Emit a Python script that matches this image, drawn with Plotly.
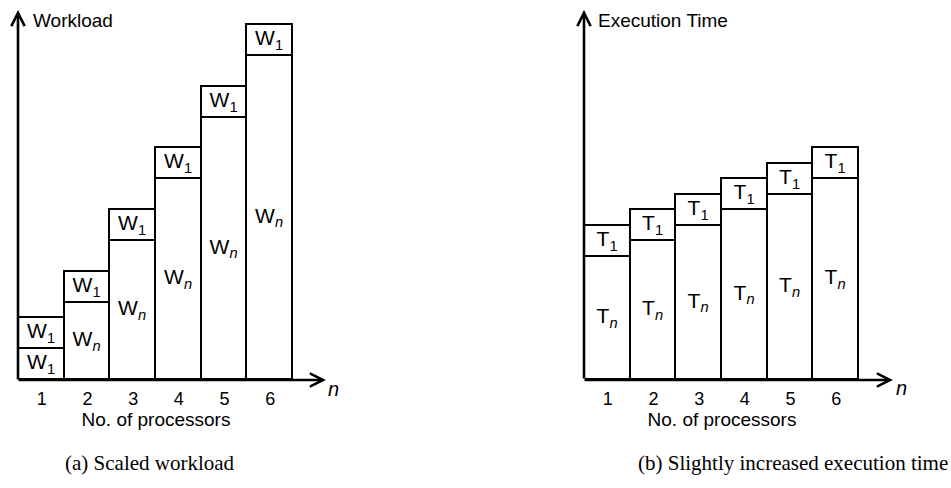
import plotly.graph_objects as go

# Data: workload (a) and execution time (b) per number of processors
processors = [1, 2, 3, 4, 5, 6]
tick_labels = ["1", "2", "3", "4", "5", "6"]

w1 = [1.0, 1.0, 1.0, 1.0, 1.0, 1.0]          # serial workload W1
wn = [1.0, 2.5, 4.5, 6.5, 8.5, 10.5]         # parallel workload Wn
w1_text = ["W<sub>1</sub>"] * 6
wn_text = ["W<sub>1</sub>"] + ["W<sub><i>n</i></sub>"] * 5

t1 = [1.0, 1.0, 1.0, 1.0, 1.0, 1.0]          # serial time T1
tn = [4.0, 4.5, 5.0, 5.5, 6.0, 6.5]          # parallel time Tn
t1_text = ["T<sub>1</sub>"] * 6
tn_text = ["T<sub><i>n</i></sub>"] * 6

# Page geometry (pixels)
W, H = 951, 488
SANS = "Liberation Sans, Arial, sans-serif"
SERIF = "Liberation Serif, Times New Roman, serif"
BASE_PX, TOP_PX = 380, 12
Y_MAX = 11.5 * (BASE_PX - TOP_PX) / (BASE_PX - 25)


def px_x(p):
    return p / W


def px_y(p):
    return 1 - p / H


fig = go.Figure()

bar_style = dict(
    marker=dict(color="white", line=dict(color="black", width=1.8)),
    textposition="inside",
    insidetextanchor="middle",
    constraintext="none",
    textangle=0,
    textfont=dict(family=SANS, size=21, color="black"),
    width=1.0,
    hoverinfo="skip",
    showlegend=False,
)

fig.add_trace(go.Bar(x=processors, y=wn, text=wn_text, xaxis="x", yaxis="y", **bar_style))
fig.add_trace(go.Bar(x=processors, y=w1, text=w1_text, xaxis="x", yaxis="y", **bar_style))
fig.add_trace(go.Bar(x=processors, y=tn, text=tn_text, xaxis="x2", yaxis="y2", **bar_style))
fig.add_trace(go.Bar(x=processors, y=t1, text=t1_text, xaxis="x2", yaxis="y2", **bar_style))

xaxis_common = dict(
    range=[0.5, 6.5],
    tickvals=processors,
    ticktext=tick_labels,
    tickfont=dict(family=SANS, size=18, color="black"),
    showgrid=False,
    zeroline=False,
    showline=False,
    ticks="outside",
    ticklen=2,
    tickcolor="rgba(0,0,0,0)",
    title=dict(text="No. of processors", font=dict(family=SANS, size=19, color="black"), standoff=1),
    fixedrange=True,
)
yaxis_common = dict(
    range=[0, Y_MAX],
    domain=[px_y(BASE_PX), px_y(TOP_PX)],
    showgrid=False,
    zeroline=False,
    showline=False,
    showticklabels=False,
    fixedrange=True,
)

fig.update_layout(
    width=W,
    height=H,
    margin=dict(l=0, r=0, t=0, b=0),
    paper_bgcolor="white",
    plot_bgcolor="white",
    barmode="stack",
    bargap=0,
    uniformtext=dict(minsize=21, mode="show"),
    xaxis=dict(domain=[px_x(19), px_x(293)], anchor="y", **xaxis_common),
    yaxis=dict(anchor="x", **yaxis_common),
    xaxis2=dict(domain=[px_x(585), px_x(859)], anchor="y2", **xaxis_common),
    yaxis2=dict(anchor="x2", **yaxis_common),
)

annotations = []


def axis_arrow(x0, y0, x1, y1):
    annotations.append(dict(
        xref="paper", yref="paper", axref="pixel", ayref="pixel",
        x=px_x(x1), y=px_y(y1), ax=x0 - x1, ay=y0 - y1,
        text="", showarrow=True, arrowhead=5, arrowsize=1.0,
        arrowwidth=2.6, arrowcolor="black", standoff=0,
    ))


def label(text, x, y, font, size, xanchor="center", italic=False):
    annotations.append(dict(
        xref="paper", yref="paper", x=px_x(x), y=px_y(y),
        text=f"<i>{text}</i>" if italic else text,
        showarrow=False, xanchor=xanchor, yanchor="middle",
        font=dict(family=font, size=size, color="black"),
    ))


# Axes with arrowheads
axis_arrow(18, 381, 18, 10)
axis_arrow(17, 380, 326, 380)
axis_arrow(584, 380, 584, 10)
axis_arrow(583, 380, 893, 380)

# Axis names
label("Workload", 31, 20, SANS, 19, xanchor="left")
label("Execution Time", 596, 20, SANS, 19, xanchor="left")
label("n", 333, 389, SANS, 20, italic=True)
label("n", 901, 388, SANS, 20, italic=True)

# Panel captions
label("(a) Scaled workload", 150, 463, SERIF, 21)
label("(b) Slightly increased execution time", 793, 463, SERIF, 21)

fig.update_layout(annotations=annotations)

fig.write_html("out.html")
